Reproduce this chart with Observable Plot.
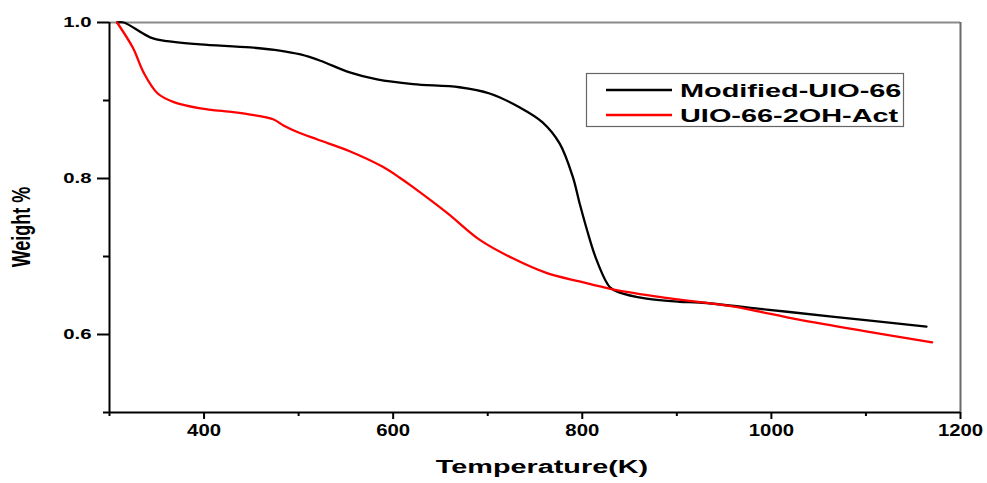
<!DOCTYPE html>
<html><head><meta charset="utf-8">
<script src="https://cdn.jsdelivr.net/npm/d3@7"></script>
<script src="https://cdn.jsdelivr.net/npm/@observablehq/plot@0.6"></script>
<style>
html,body{margin:0;padding:0;background:#fff;}
#chart{position:relative;width:987px;height:483px;}
#chart svg text{font-family:"Liberation Sans",Arial,sans-serif;font-weight:bold;fill:#000;}
</style></head><body><div id="chart"></div>
<script>
const seriesNames = ["Modified-UIO-66", "UIO-66-2OH-Act"];
const seriesColors = ["#000000", "#ff0000"];

const tempModified = [308, 315, 343, 361, 396, 449, 480, 502, 523, 554, 583, 621, 670, 702, 734, 758, 776, 790, 797, 805, 815, 829, 839, 868, 903, 924, 995, 1064, 1164];
const weightModified = [1.0, 1.0, 0.981, 0.976, 0.972, 0.968, 0.964, 0.959, 0.951, 0.936, 0.927, 0.921, 0.917, 0.909, 0.891, 0.872, 0.845, 0.802, 0.769, 0.734, 0.696, 0.661, 0.654, 0.646, 0.642, 0.641, 0.632, 0.623, 0.610];

const tempAct = [308, 325, 336, 351, 368, 396, 431, 449, 473, 484, 498, 520, 554, 589, 607, 621, 657, 692, 726, 762, 797, 832, 889, 959, 1029, 1100, 1170];
const weightAct = [1.0, 0.967, 0.936, 0.909, 0.898, 0.890, 0.885, 0.882, 0.876, 0.868, 0.860, 0.850, 0.835, 0.815, 0.801, 0.789, 0.756, 0.721, 0.698, 0.679, 0.668, 0.658, 0.647, 0.636, 0.619, 0.604, 0.590];

const xMajorTicks = [400, 600, 800, 1000, 1200];
const xMinorTicks = [300, 500, 700, 900, 1100];
const yMajorTicks = [0.6, 0.8, 1.0];
const yMinorTicks = [0.5, 0.7, 0.9];
const xDomain = [300, 1200];
const yDomain = [0.5, 1.0];
const xTitle = "Temperature(K)";
const yTitle = "Weight %";

const rows = [
  ...tempModified.map((t, i) => ({series: seriesNames[0], T: t, w: weightModified[i]})),
  ...tempAct.map((t, i) => ({series: seriesNames[1], T: t, w: weightAct[i]}))
];

const W = 987, H = 483, mL = 109, mR = 27, mT = 22, mB = 71;

const plot = Plot.plot({
  width: W, height: H,
  marginLeft: mL, marginRight: mR, marginTop: mT, marginBottom: mB,
  style: {background: "white", overflow: "visible"},
  x: {domain: xDomain},
  y: {domain: yDomain},
  color: {domain: seriesNames, range: seriesColors},
  marks: [
    Plot.ruleY([yDomain[1]], {stroke: "#8a8a8a", strokeWidth: 2}),
    Plot.ruleX([xDomain[1]], {stroke: "#6a6a6a", strokeWidth: 2}),
    Plot.line(rows, {x: "T", y: "w", z: "series", stroke: "series", strokeWidth: 2.3, curve: "catmull-rom"}),
    Plot.ruleX([xDomain[0]], {stroke: "black", strokeWidth: 2}),
    Plot.ruleY([yDomain[0]], {stroke: "black", strokeWidth: 2}),
    Plot.axisX({ticks: xMajorTicks, tickSize: 7, tickPadding: 5, strokeWidth: 2, fontSize: 16, label: null, tickFormat: d => String(d)}),
    Plot.axisX({ticks: xMinorTicks, tickSize: 4, strokeWidth: 2, label: null, tickFormat: () => ""}),
    Plot.axisY({ticks: yMajorTicks, tickSize: 12, tickPadding: 6, strokeWidth: 2, fontSize: 14, label: null, tickFormat: d => d.toFixed(1)}),
    Plot.axisY({ticks: yMinorTicks, tickSize: 6, strokeWidth: 2, label: null, tickFormat: () => ""})
  ]
});

document.getElementById("chart").appendChild(plot);
const svg = d3.select(plot);

// stretch tick labels horizontally (reference is horizontally stretched)
svg.selectAll("text").each(function() {
  const t = this.textContent;
  if (!t) return;
  const len = this.getComputedTextLength();
  const f = t.includes(".") ? 1.45 : 1.27;
  d3.select(this).attr("textLength", len * f).attr("lengthAdjust", "spacingAndGlyphs");
});

function stretched(sel, factor) {
  const len = sel.node().getComputedTextLength();
  sel.attr("textLength", len * factor).attr("lengthAdjust", "spacingAndGlyphs");
  return sel;
}

// axis titles
stretched(svg.append("text")
  .attr("x", 542).attr("y", 473)
  .attr("text-anchor", "middle")
  .style("font-size", "18px")
  .text(xTitle), 1.6);

svg.append("text")
  .attr("transform", "translate(30,227) scale(1.4,1) rotate(-90)")
  .attr("text-anchor", "middle")
  .style("font-size", "18px")
  .text(yTitle);

// legend
const lg = svg.append("g");
lg.append("rect").attr("x", 586.5).attr("y", 73.5).attr("width", 317).attr("height", 53)
  .attr("fill", "white").attr("stroke", "#666").attr("stroke-width", 1.2);
seriesNames.forEach((name, i) => {
  const y = 90 + i * 25;
  lg.append("line").attr("x1", 606).attr("x2", 672).attr("y1", y).attr("y2", y)
    .attr("stroke", seriesColors[i]).attr("stroke-width", 2.3);
  stretched(lg.append("text").attr("x", 680).attr("y", y + 7)
    .attr("text-anchor", "start")
    .style("font-size", "19px").text(name), 1.52);
});
</script></body></html>
